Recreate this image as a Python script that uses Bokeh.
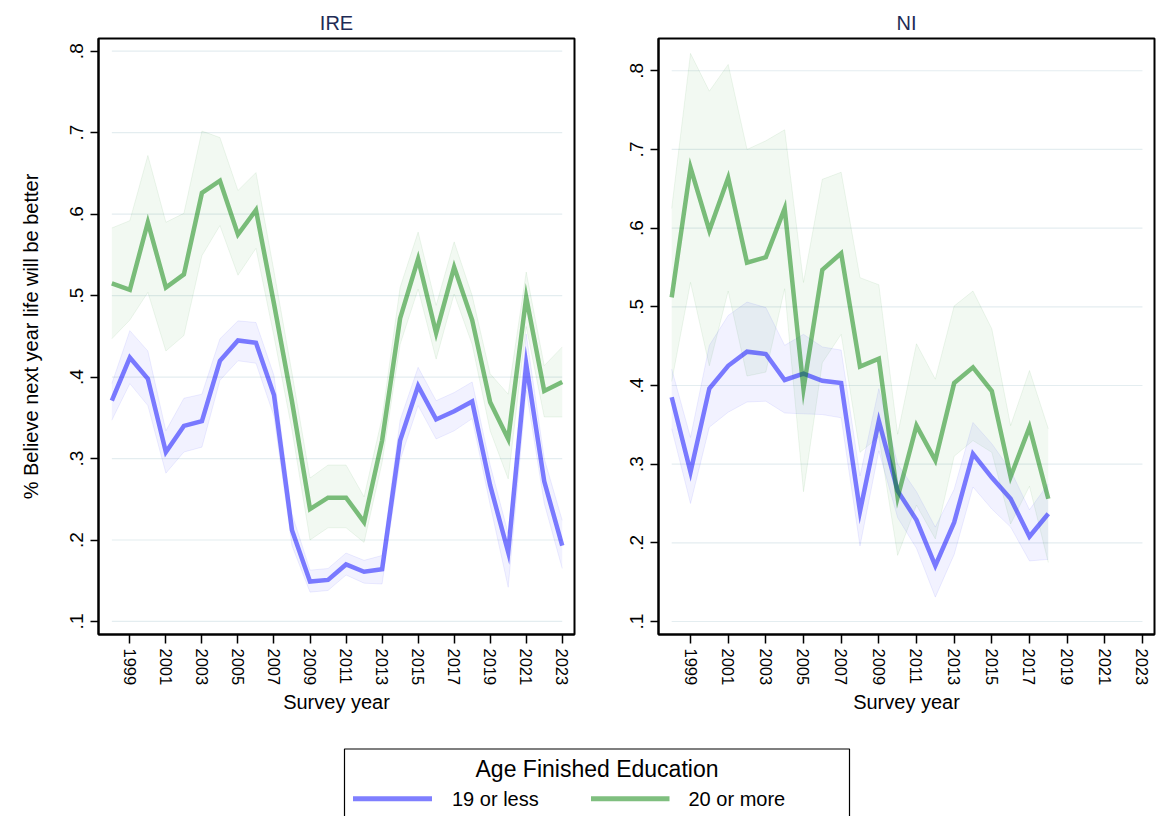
from bokeh.plotting import figure
from bokeh.layouts import column, row
from bokeh.models import Range1d, FixedTicker, CustomJSTickFormatter
from bokeh.core.properties import value
from bokeh.embed import file_html
from bokeh.resources import INLINE

# ---------------- data ----------------
ire_years = list(range(1998, 2024))
ire_low = [0.371, 0.424, 0.398, 0.308, 0.340, 0.346, 0.420, 0.445, 0.442, 0.378, 0.212, 0.149, 0.151,
           0.170, 0.161, 0.164, 0.322, 0.389, 0.348, 0.358, 0.370, 0.267, 0.185, 0.416, 0.272, 0.193]
ire_low_lo = [0.347, 0.392, 0.365, 0.282, 0.308, 0.314, 0.396, 0.420, 0.417, 0.352, 0.193, 0.136, 0.138,
              0.157, 0.147, 0.146, 0.298, 0.365, 0.324, 0.334, 0.349, 0.243, 0.142, 0.384, 0.245, 0.165]
ire_low_hi = [0.392, 0.457, 0.432, 0.334, 0.374, 0.379, 0.447, 0.469, 0.467, 0.402, 0.232, 0.163, 0.165,
              0.184, 0.175, 0.181, 0.347, 0.412, 0.371, 0.381, 0.394, 0.292, 0.208, 0.453, 0.300, 0.224]
ire_high = [0.515, 0.507, 0.590, 0.510, 0.526, 0.626, 0.641, 0.575, 0.605, 0.490, 0.370, 0.238, 0.252,
            0.252, 0.222, 0.322, 0.472, 0.545, 0.454, 0.535, 0.470, 0.369, 0.324, 0.498, 0.383, 0.394]
ire_high_lo = [0.447, 0.470, 0.504, 0.432, 0.451, 0.549, 0.586, 0.525, 0.558, 0.450, 0.335, 0.200, 0.215,
               0.215, 0.197, 0.295, 0.440, 0.508, 0.422, 0.502, 0.440, 0.334, 0.275, 0.462, 0.351, 0.351]
ire_high_hi = [0.583, 0.592, 0.672, 0.590, 0.601, 0.702, 0.694, 0.629, 0.651, 0.530, 0.405, 0.276, 0.292,
               0.292, 0.253, 0.350, 0.510, 0.578, 0.488, 0.566, 0.500, 0.404, 0.379, 0.529, 0.414, 0.437]

ni_years = list(range(1998, 2019))
ni_low = [0.385, 0.290, 0.396, 0.425, 0.443, 0.440, 0.407, 0.415, 0.406, 0.403, 0.240, 0.355, 0.266,
          0.229, 0.171, 0.226, 0.313, 0.283, 0.256, 0.208, 0.237]
ni_low_lo = [0.345, 0.250, 0.347, 0.366, 0.379, 0.380, 0.365, 0.364, 0.363, 0.359, 0.196, 0.317, 0.232,
             0.193, 0.131, 0.185, 0.271, 0.243, 0.220, 0.177, 0.179]
ni_low_hi = [0.421, 0.334, 0.451, 0.489, 0.506, 0.499, 0.451, 0.465, 0.449, 0.445, 0.285, 0.396, 0.300,
             0.265, 0.220, 0.268, 0.353, 0.326, 0.292, 0.242, 0.275]
ni_high = [0.512, 0.677, 0.597, 0.664, 0.556, 0.563, 0.625, 0.396, 0.547, 0.568, 0.424, 0.434, 0.258,
           0.349, 0.305, 0.403, 0.423, 0.393, 0.284, 0.347, 0.256]
ni_high_lo = [0.405, 0.531, 0.425, 0.520, 0.412, 0.417, 0.523, 0.265, 0.429, 0.465, 0.315, 0.335, 0.184,
              0.248, 0.205, 0.310, 0.330, 0.315, 0.224, 0.272, 0.175]
ni_high_hi = [0.625, 0.822, 0.774, 0.808, 0.700, 0.711, 0.725, 0.531, 0.662, 0.671, 0.537, 0.528, 0.338,
              0.453, 0.408, 0.501, 0.520, 0.472, 0.349, 0.419, 0.345]

x_ticks = list(range(1999, 2024, 2))
y_ticks = [0.1, 0.2, 0.3, 0.4, 0.5, 0.6, 0.7, 0.8]
series_names = ["19 or less", "20 or more"]
legend_title = "Age Finished Education"
y_title = "% Believe next year life will be better"
x_title = "Survey year"

# ---------------- styles ----------------
FONT = "Liberation Sans"
BLUE = "#0000ff"
GREEN = "#008000"
GRID = "#e4edf0"
TITLE_COL = "#1e2b55"


def panel(title, years, lo, lo_l, lo_h, hi, hi_l, hi_h, width, border_left, border_right,
          xr, yr, ylabel):
    p = figure(width=width, height=727, output_backend="svg", toolbar_location=None,
               x_range=Range1d(*xr), y_range=Range1d(*yr),
               min_border_left=border_left, min_border_right=border_right,
               min_border_top=38, min_border_bottom=93)
    p.title.text = title
    p.title.align = "center"
    p.title.text_font = FONT
    p.title.text_font_size = "20px"
    p.title.text_font_style = "normal"
    p.title.text_color = TITLE_COL
    p.title.standoff = 10
    p.outline_line_color = "black"
    p.outline_line_width = 2
    p.xgrid.visible = False
    p.ygrid.visible = False
    p.background_fill_color = "white"
    p.border_fill_color = "white"

    # grid lines from first year to last tick
    p.segment(x0=[years[0]] * len(y_ticks), x1=[x_ticks[-1]] * len(y_ticks),
              y0=y_ticks, y1=y_ticks, line_color=GRID, line_width=1.2, level="underlay")

    for ys, l, h, col in ((lo, lo_l, lo_h, BLUE), (hi, hi_l, hi_h, GREEN)):
        p.varea(x=years, y1=l, y2=h, fill_color=col, fill_alpha=0.05)
        p.line(years, l, line_color=col, line_alpha=0.07, line_width=1)
        p.line(years, h, line_color=col, line_alpha=0.07, line_width=1)
    for ys, col in ((lo, BLUE), (hi, GREEN)):
        p.line(years, ys, line_color=col, line_alpha=0.5, line_width=4.5, line_join="miter")

    p.xaxis.ticker = FixedTicker(ticks=x_ticks)
    p.yaxis.ticker = FixedTicker(ticks=y_ticks)
    p.yaxis.formatter = CustomJSTickFormatter(code="return tick.toFixed(1).replace(/^0/, '')")
    p.xaxis.major_label_orientation = "vertical"
    p.yaxis.major_label_orientation = "parallel"
    for ax in (p.xaxis[0], p.yaxis[0]):
        ax.axis_line_color = "black"
        ax.axis_line_width = 2
        ax.major_tick_line_color = "black"
        ax.major_tick_line_width = 1.5
        ax.minor_tick_line_color = None
        ax.major_tick_in = 0
        ax.major_label_text_font = FONT
        ax.major_label_text_color = "black"
        ax.axis_label_text_font = FONT
        ax.axis_label_text_font_size = "20px"
        ax.axis_label_text_font_style = "normal"
        ax.axis_label_text_color = "black"
    p.xaxis.major_label_text_font_size = "16.5px"
    p.yaxis.major_label_text_font_size = "19px"
    p.xaxis.major_tick_out = 9
    p.yaxis.major_tick_out = 8
    p.yaxis.major_label_standoff = 7
    p.xaxis.major_label_standoff = 5
    p.xaxis.axis_label_standoff = 3
    p.xaxis.axis_label = x_title
    if ylabel:
        p.yaxis.axis_label = ylabel
        p.yaxis.axis_label_standoff = 26
    return p


p1 = panel("IRE", ire_years, ire_low, ire_low_lo, ire_low_hi, ire_high, ire_high_lo, ire_high_hi,
           616, 98, 42, (1997.26, 2023.68), (0.084, 0.8156), y_title)
p2 = panel("NI", ni_years, ni_low, ni_low_lo, ni_low_hi, ni_high, ni_high_lo, ni_high_hi,
           541, 42, 3, (1997.30, 2023.64), (0.0835, 0.841), None)

# ---------------- legend panel (page pixel coordinates) ----------------
leg = figure(width=1157, height=89, output_backend="svg", toolbar_location=None,
             x_range=Range1d(0, 1157), y_range=Range1d(816, 727),
             min_border=0, min_border_left=0, min_border_right=0,
             min_border_top=0, min_border_bottom=0)
leg.axis.visible = False
leg.xgrid.visible = False
leg.ygrid.visible = False
leg.outline_line_color = None
leg.quad(left=[344], right=[849], top=[748.5], bottom=[840], fill_color=None,
         line_color="black", line_width=1.2)
leg.text(x=[596.5], y=[768], text=[legend_title], text_align="center",
         text_baseline="alphabetic", text_font=value(FONT), text_font_size="23px", text_color="black")
leg.segment(x0=[352.5, 590.5], x1=[431.5, 669], y0=[798.3, 798.3], y1=[798.3, 798.3],
            line_color=[BLUE, GREEN], line_alpha=0.5, line_width=5)
leg.text(x=[451.5, 688], y=[798, 798], text=series_names, text_align="left",
         text_baseline="alphabetic", text_font=value(FONT), text_font_size="20px", text_color="black")

layout = column(row(p1, p2), leg)
open("out.html", "w").write(file_html(layout, INLINE))
